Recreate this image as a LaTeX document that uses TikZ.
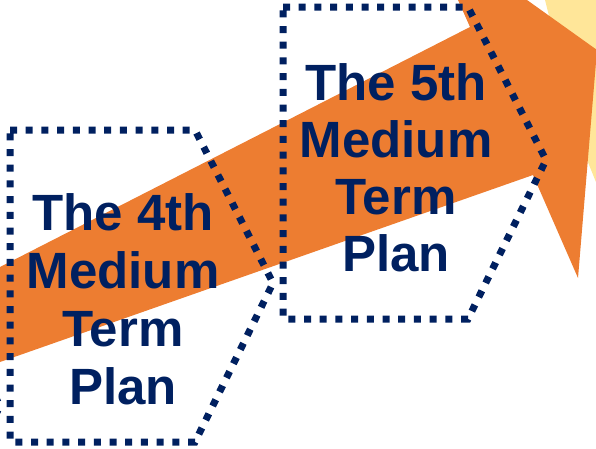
\documentclass[tikz,border=0pt]{standalone}
\usepackage{fontspec}
\setmainfont{Liberation Sans}
\definecolor{planblue}{HTML}{002060}
\definecolor{arroworange}{HTML}{ED7D31}
\definecolor{arrowyellow}{HTML}{FFE699}

\begin{document}
\begin{tikzpicture}[x=1pt, y=-1pt,
    planbox/.style={draw=planblue, line width=7pt, dash pattern=on 7pt off 8.7pt},
    plantext/.style={anchor=base, inner sep=0pt, text=planblue,
        font=\fontsize{51}{58}\selectfont\bfseries}]
    \useasboundingbox (0,0) rectangle (596,448);
    \clip (0,0) rectangle (596,448);
    % arrows in the back
    \fill[arrowyellow] (545,0) -- (600,0) -- (600,192) -- (583,150) -- cycle;
    \fill[arroworange] (0,362) -- (533,175) -- (578,278) -- (597,50) -- (527,0)
        -- (458,0) -- (470,27) -- (0,267) -- cycle;
    % plan boxes
    \draw[planbox] (-263,253) -- (-78,253) -- (0,406) -- (-78,565) -- (-263,565) -- cycle;
    \draw[planbox] (10,130) -- (195,130) -- (273,283) -- (195,442) -- (10,442) -- cycle;
    \draw[planbox] (283,7) -- (468,7) -- (546,160) -- (468,319) -- (283,319) -- cycle;
    % labels
    \foreach \w [count=\i] in {The 4th, Medium, Term, Plan}
        \node[plantext] (fourth\i) at (123, 172+58*\i) {\w};
    \foreach \w [count=\i] in {The 5th, Medium, Term, Plan}
        \node[plantext] (fifth\i) at (396, 43+57*\i) {\w};
\end{tikzpicture}
\end{document}
